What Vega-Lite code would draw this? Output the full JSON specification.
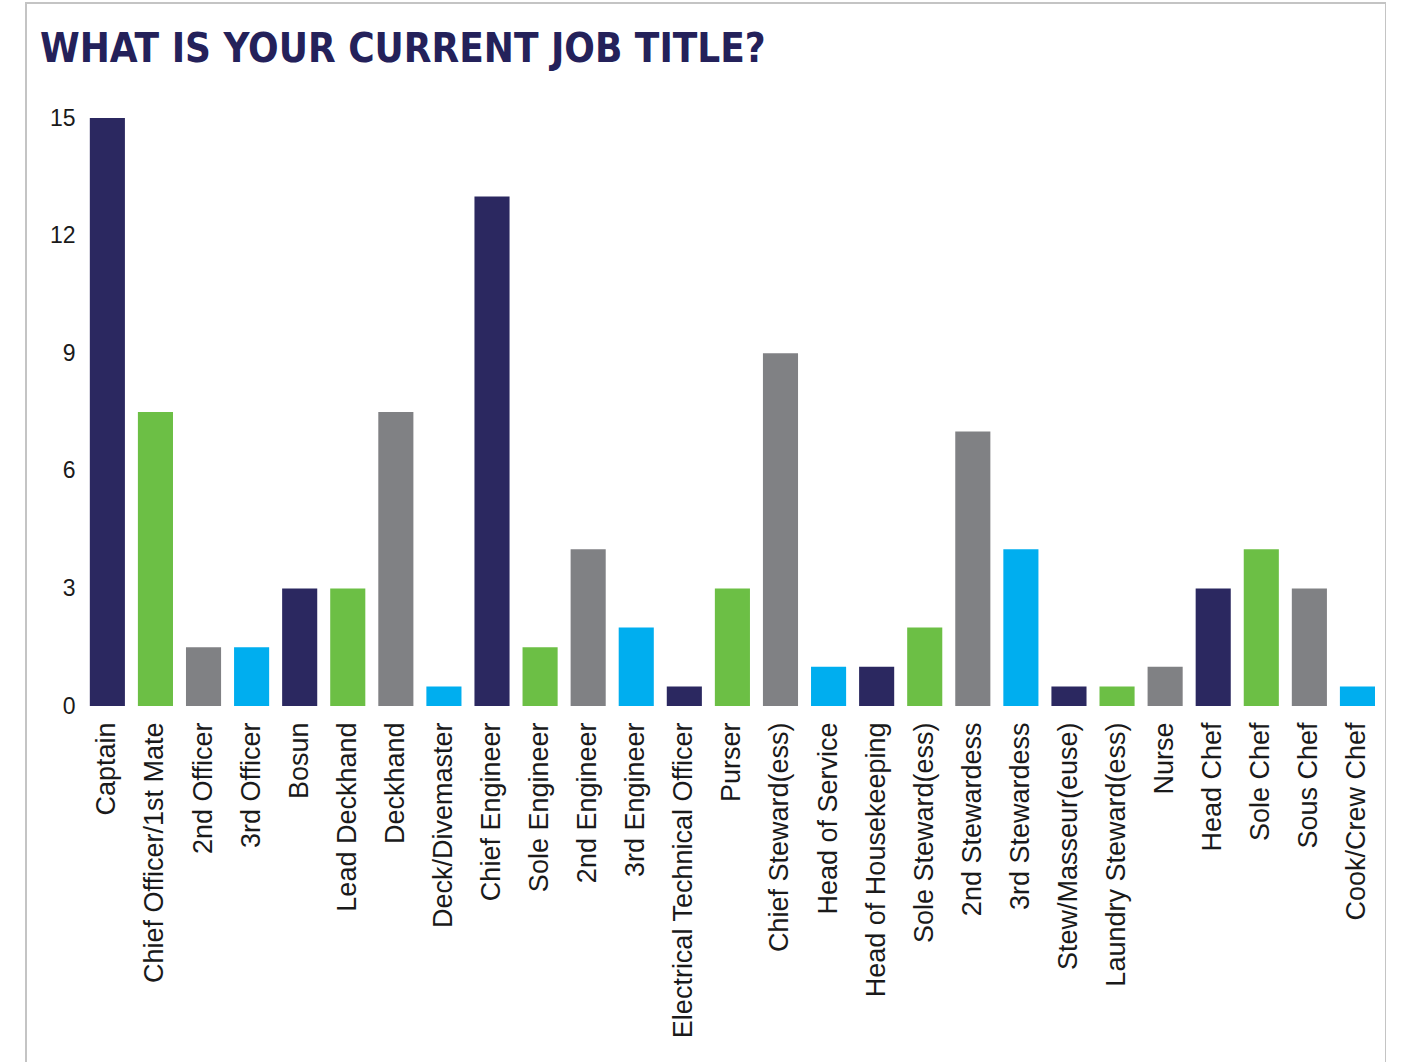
{
  "$schema": "https://vega.github.io/schema/vega-lite/v6.json",
  "width": 1360,
  "height": 1070,
  "autosize": {"type": "none"},
  "padding": {"left": 26, "top": 3, "right": 0, "bottom": 0},
  "background": "white",
  "title": {
    "text": "WHAT IS YOUR CURRENT JOB TITLE?",
    "anchor": "start",
    "frame": "group",
    "baseline": "alphabetic",
    "offset": -59,
    "dy": 40,
    "dx": 14,
    "font": "DejaVu Sans Condensed",
    "fontWeight": "bold",
    "fontSize": 40,
    "color": "#24215a"
  },
  "config": {
    "view": {"stroke": "#c4c4c4", "strokeWidth": 2},
    "axis": {"grid": false, "domain": false, "ticks": false, "tickSize": 0, "title": null,
             "labelFont": "Liberation Sans", "labelColor": "#1a1a1a"}
  },
  "data": {
    "values": [
      {"job": "Captain", "count": 15, "series": "A"},
      {"job": "Chief Officer/1st Mate", "count": 7.5, "series": "B"},
      {"job": "2nd Officer", "count": 1.5, "series": "C"},
      {"job": "3rd Officer", "count": 1.5, "series": "D"},
      {"job": "Bosun", "count": 3, "series": "A"},
      {"job": "Lead Deckhand", "count": 3, "series": "B"},
      {"job": "Deckhand", "count": 7.5, "series": "C"},
      {"job": "Deck/Divemaster", "count": 0.5, "series": "D"},
      {"job": "Chief Engineer", "count": 13, "series": "A"},
      {"job": "Sole Engineer", "count": 1.5, "series": "B"},
      {"job": "2nd Engineer", "count": 4, "series": "C"},
      {"job": "3rd Engineer", "count": 2, "series": "D"},
      {"job": "Electrical Technical Officer", "count": 0.5, "series": "A"},
      {"job": "Purser", "count": 3, "series": "B"},
      {"job": "Chief Steward(ess)", "count": 9, "series": "C"},
      {"job": "Head of Service", "count": 1, "series": "D"},
      {"job": "Head of Housekeeping", "count": 1, "series": "A"},
      {"job": "Sole Steward(ess)", "count": 2, "series": "B"},
      {"job": "2nd Stewardess", "count": 7, "series": "C"},
      {"job": "3rd Stewardess", "count": 4, "series": "D"},
      {"job": "Stew/Masseur(euse)", "count": 0.5, "series": "A"},
      {"job": "Laundry Steward(ess)", "count": 0.5, "series": "B"},
      {"job": "Nurse", "count": 1, "series": "C"},
      {"job": "Head Chef", "count": 3, "series": "A"},
      {"job": "Sole Chef", "count": 4, "series": "B"},
      {"job": "Sous Chef", "count": 3, "series": "C"},
      {"job": "Cook/Crew Chef", "count": 0.5, "series": "D"}
    ]
  },
  "mark": {"type": "bar"},
  "encoding": {
    "x": {
      "field": "job", "type": "nominal", "sort": null,
      "scale": {"type": "band", "paddingInner": 0.27, "paddingOuter": 0.778, "align": 0.853},
      "axis": {"labelAngle": -90, "labelFontSize": 27, "labelPadding": 16, "offset": -367, "labelLimit": 0, "labelAlign": "right", "labelBaseline": "middle"}
    },
    "y": {
      "field": "count", "type": "quantitative",
      "scale": {"domain": [-9.362, 17.934], "nice": false, "zero": false},
      "axis": {"values": [0, 3, 6, 9, 12, 15], "labelFontSize": 23, "offset": -49, "labelPadding": 0}
    },
    "color": {
      "field": "series", "type": "nominal", "legend": null,
      "scale": {"domain": ["A", "B", "C", "D"], "range": ["#2b2860", "#6cbf45", "#808184", "#00aeef"]}
    }
  }
}
